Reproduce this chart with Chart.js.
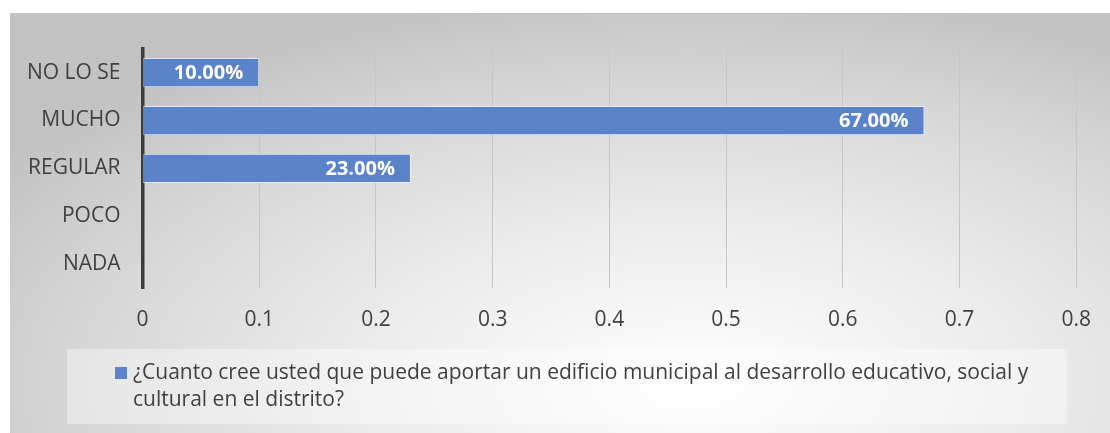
<!DOCTYPE html>
<html>
<head>
<meta charset="utf-8">
<script src="https://cdn.jsdelivr.net/npm/chart.js@4"></script>
<style>
body{margin:0;background:#fff;}
#wrap{position:absolute;left:10px;top:13px;width:1100px;height:420px;
  background:radial-gradient(ellipse 75% 95% at 62% 88%, #ffffff 0%, #ececec 40%, #d6d6d6 75%, #c2c2c2 100%);
  border-top:1px solid #c4c4c4;}
#chart{position:absolute;left:0;top:0;}
#legend{position:absolute;left:57px;top:335px;width:1000px;height:75px;
  background:rgba(255,255,255,0.38);font-family:"Open Sans","Noto Sans",sans-serif;font-size:21px;color:#404040;}
#legend .box{position:absolute;left:48px;top:18px;width:12px;height:12px;background:#5a83ca;}
#legend .txt{position:absolute;left:66px;top:9px;width:910px;line-height:27px;}
</style>
</head>
<body>
<div id="wrap">
<canvas id="chart" width="1100" height="420"></canvas>
<div id="legend"><span class="box"></span><span class="txt" id="legendText"></span></div>
</div>
<script>
const categories = ['NO LO SE','MUCHO','REGULAR','POCO','NADA'];
const values = [0.10, 0.67, 0.23, 0, 0];
const seriesName = '¿Cuanto cree usted que puede aportar un edificio municipal al desarrollo educativo, social y cultural en el distrito?';
const xTicks = [0, 0.1, 0.2, 0.3, 0.4, 0.5, 0.6, 0.7, 0.8];

const barColor = '#5a83ca';
const textColor = '#404040';
const fontName = '"Open Sans", "Noto Sans", sans-serif';

// labels at the inner end of each bar
const barLabels = {
  id: 'barLabels',
  afterDatasetsDraw(chart){
    const ctx = chart.ctx;
    const meta = chart.getDatasetMeta(0);
    ctx.save();
    ctx.font = 'bold 20px ' + fontName;
    ctx.fillStyle = '#ffffff';
    ctx.textAlign = 'right';
    ctx.textBaseline = 'middle';
    meta.data.forEach((bar, i) => {
      const v = chart.data.datasets[0].data[i];
      if (!v) return;
      ctx.fillText((v*100).toFixed(2) + '%', bar.x - 16, bar.y + 1);
    });
    ctx.restore();
  }
};

document.getElementById('legendText').textContent = seriesName;

const data = {
  labels: categories,
  datasets: [{
    label: seriesName,
    data: values,
    backgroundColor: barColor,
    borderColor: 'rgba(255,255,255,0.55)',
    borderWidth: 1,
    barPercentage: 0.61,
    categoryPercentage: 1
  }]
};

const config = {
  type: 'bar',
  data: data,
  options: {
    indexAxis: 'y',
    responsive: false,
    animation: false,
    layout: {padding: {top: 28, right: 32, left: 0, bottom: 0}},
    plugins: {legend: {display: false}, tooltip: {enabled: false}},
    scales: {
      x: {
        min: 0, max: 0.8,
        afterBuildTicks: s => { s.ticks = xTicks.map(v => ({value: v})); },
        afterFit: s => { s.height = 420 - 274.3; },
        ticks: {
          padding: 19,
          color: textColor,
          font: {family: fontName, size: 21},
          callback: v => String(Number(v.toFixed(1)))
        },
        grid: {color: '#c6c6c6', lineWidth: 1, drawTicks: false},
        border: {display: false}
      },
      y: {
        afterFit: s => { s.width = 132.5; },
        ticks: {
          padding: 22,
          color: textColor,
          font: {family: fontName, size: 21}
        },
        grid: {display: false, drawTicks: false},
        border: {display: true, color: '#3c3c3c', width: 3.5}
      }
    }
  },
  plugins: [barLabels]
};

let ctx = document.getElementById('chart').getContext('2d');
new Chart(ctx, config);
</script>
</body>
</html>
